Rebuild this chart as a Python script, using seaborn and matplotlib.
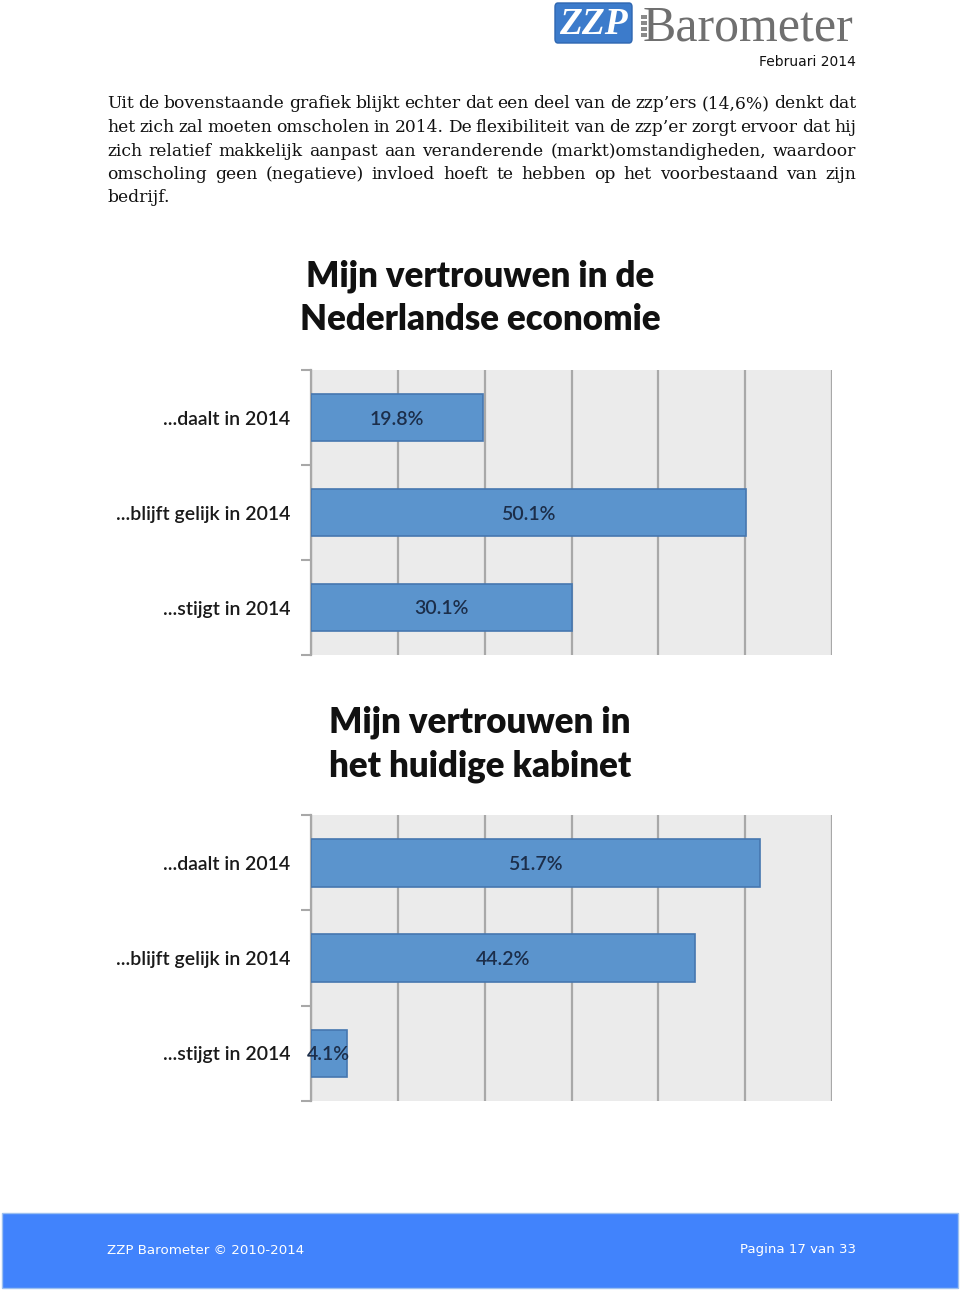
import matplotlib
matplotlib.use("Agg")
import matplotlib.pyplot as plt
from matplotlib.patches import Rectangle, FancyBboxPatch
import seaborn as sns
import pandas as pd

# ---------------- data ----------------
categories = ["...daalt in 2014", "...blijft gelijk in 2014", "...stijgt in 2014"]
economie_values = [19.8, 50.1, 30.1]
kabinet_values = [51.7, 44.2, 4.1]
chart_titles = ["Mijn vertrouwen in de\nNederlandse economie",
                "Mijn vertrouwen in\nhet huidige kabinet"]
x_gridlines = [0, 10, 20, 30, 40, 50, 60]

paragraph_lines = [
    "Uit de bovenstaande grafiek blijkt echter dat een deel van de zzp\u2019ers (14,6%) denkt dat",
    "het zich zal moeten omscholen in 2014. De flexibiliteit van de zzp\u2019er zorgt ervoor dat hij",
    "zich relatief makkelijk aanpast aan veranderende (markt)omstandigheden, waardoor",
    "omscholing geen (negatieve) invloed hoeft te hebben op het voorbestaand van zijn",
    "bedrijf.",
]
header_date = "Februari 2014"
footer_left = "ZZP Barometer \u00a9 2010-2014"
footer_right = "Pagina 17 van 33"

# ---------------- style ----------------
sns.set_theme(style="white")
plt.rcParams["font.family"] = ["Lato", "DejaVu Sans"]

W, H = 960, 1290
fig = plt.figure(figsize=(W / 100, H / 100), dpi=100)
fig.patch.set_facecolor("white")

def fx(px):
    return px / W

def fy(py):
    return 1 - py / H

BAR_COLOR = "#5B94CD"
BAR_EDGE = "#4677B0"
PANEL = "#EBEBEB"
GRID = "#A8A8A8"

def draw_chart(values, top_px, bottom_px, title, title_y1, title_y2):
    ax = fig.add_axes([fx(311), fy(bottom_px), fx(832) - fx(311), fy(top_px) - fy(bottom_px)])
    df = pd.DataFrame({"cat": categories, "val": values})
    sns.barplot(data=df, x="val", y="cat", orient="h", ax=ax, color=BAR_COLOR,
                width=0.5, saturation=1, edgecolor=BAR_EDGE, linewidth=1.2, zorder=3)
    ax.set_facecolor(PANEL)
    ax.set_xlim(0, 60)
    ax.set_ylim(2.5, -0.5)
    ax.set_xticks(x_gridlines)
    ax.set_xticklabels([])
    ax.tick_params(axis="x", length=0)
    ax.grid(axis="x", color=GRID, linewidth=1.6, zorder=1)
    ax.set_axisbelow(True)
    ax.set_xlabel("")
    ax.set_ylabel("")
    ax.set_yticks([0, 1, 2])
    ax.set_yticklabels(categories, fontsize=14, color="#1a1a1a", fontweight="semibold")
    ax.tick_params(axis="y", which="major", length=0, pad=15)
    ax.set_yticks([-0.5, 0.5, 1.5, 2.5], minor=True)
    ax.tick_params(axis="y", which="minor", length=7, width=1.5, color=GRID, left=True)
    for s in ["top", "right", "bottom"]:
        ax.spines[s].set_visible(False)
    ax.spines["left"].set_color(GRID)
    ax.spines["left"].set_linewidth(1.6)
    labels = [f"{v:.1f}%" for v in values]
    anns = ax.bar_label(ax.containers[0], labels=labels, label_type="center",
                        fontsize=14, color="#1C2E4A", fontweight="semibold", zorder=5)
    for a in anns:
        a.set_va("center_baseline")
    fig.text(0.5, fy(title_y1), title.split("\n")[0], ha="center", va="center",
             fontsize=25, fontweight="heavy", color="#111111")
    fig.text(0.5, fy(title_y2), title.split("\n")[1], ha="center", va="center",
             fontsize=25, fontweight="heavy", color="#111111")
    return ax

ax1 = draw_chart(economie_values, 370, 655, chart_titles[0], 276, 320)
ax2 = draw_chart(kabinet_values, 815, 1101, chart_titles[1], 722, 766)

# ---------------- header ----------------
logo = FancyBboxPatch((fx(555), fy(43)), fx(632) - fx(555), fy(3) - fy(43),
                      boxstyle="round,pad=0,rounding_size=0.003",
                      transform=fig.transFigure, facecolor="#3C7BCB",
                      edgecolor="#2E66B0", linewidth=1)
fig.patches.append(logo)
fig.text(fx(593), fy(24), "ZZP", ha="center", va="center", fontsize=27,
         family="Liberation Serif", fontweight="bold", fontstyle="italic", color="white")
for i in range(4):
    fig.patches.append(Rectangle((fx(641), fy(19 + i * 6)), fx(6), 4 / H,
                                 transform=fig.transFigure, facecolor="#8A8A8A",
                                 edgecolor="none"))
fig.text(fx(643), fy(28), "Barometer", ha="left", va="center", fontsize=36,
         family="Liberation Serif", color="#6F6F6F")
fig.text(fx(856), fy(62), header_date, ha="right", va="center", fontsize=10,
         family="DejaVu Sans", color="#111111")

# ---------------- paragraph (justified) ----------------
fig.canvas.draw()
renderer = fig.canvas.get_renderer()
LEFT, RIGHT = 107, 856
line_y = [104, 127.5, 151, 174.5, 198]
para_kw = dict(fontsize=12.3, family="DejaVu Serif", color="#111111", va="center", ha="left")
for i, line in enumerate(paragraph_lines):
    words = line.split(" ")
    if i == len(paragraph_lines) - 1:
        fig.text(fx(LEFT), fy(line_y[i]), line, **para_kw)
        continue
    texts = [fig.text(0, fy(line_y[i]), w, **para_kw) for w in words]
    widths = [t.get_window_extent(renderer).width for t in texts]
    gap = (RIGHT - LEFT - sum(widths)) / (len(words) - 1)
    x = LEFT
    for t, w in zip(texts, widths):
        t.set_x(fx(x))
        x += w + gap

# ---------------- footer ----------------
fig.patches.append(Rectangle((fx(2), fy(1288)), fx(958) - fx(2), fy(1213) - fy(1288),
                             transform=fig.transFigure, facecolor="#4183FC",
                             edgecolor="#9CC0F0", linewidth=1))
fig.text(fx(107), fy(1250), footer_left, ha="left", va="center", fontsize=9.6,
         family="DejaVu Sans", color="white")
fig.text(fx(856), fy(1250), footer_right, ha="right", va="center", fontsize=9.6,
         family="DejaVu Sans", color="white")

fig.savefig("out.png", dpi=100, facecolor="white")
